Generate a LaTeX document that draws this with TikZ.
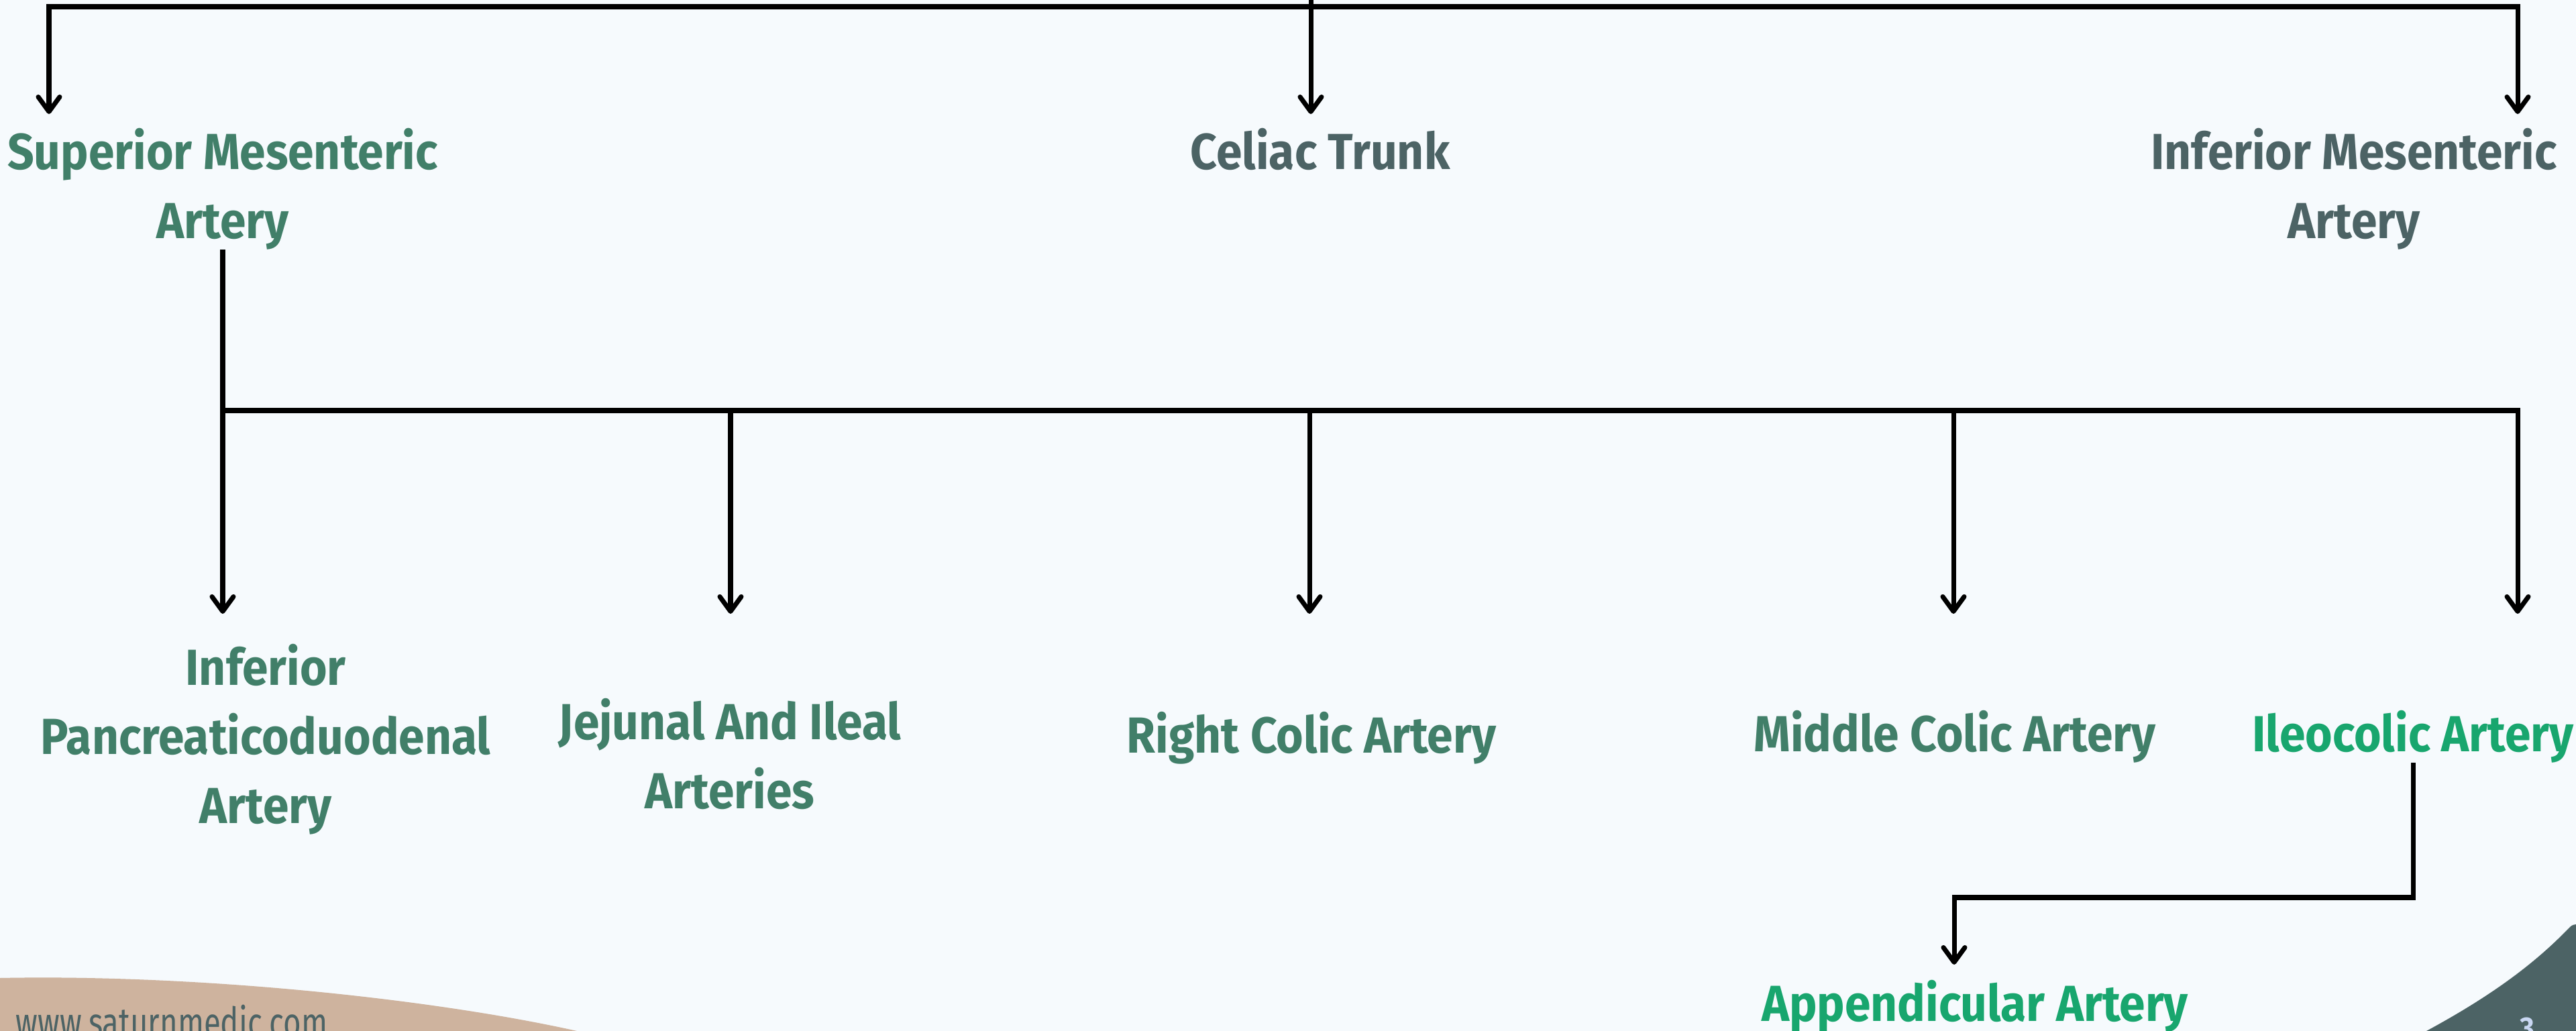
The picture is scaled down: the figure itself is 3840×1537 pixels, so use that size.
\documentclass[tikz,border=0pt]{standalone}
\usepackage{fontspec}
\setmainfont{Fira Sans}
\newfontfamily\artfont{Fira Sans}[FakeStretch=0.92]
\newfontfamily\sitefont{Fira Sans}[FakeStretch=0.75]
\usetikzlibrary{arrows.meta}
\definecolor{bgcol}{HTML}{F6FAFD}
\definecolor{smagreen}{HTML}{417F69}
\definecolor{slate}{HTML}{4C6365}
\definecolor{leafgreen}{HTML}{18A66E}
\definecolor{sand}{HTML}{CEB39E}
\definecolor{pagecol}{HTML}{C9D7F2}
\begin{document}
\begin{tikzpicture}[x=0.1mm,y=-0.1mm,
    lbl/.style={font=\artfont\bfseries\fontsize{21.5}{29.3}\selectfont,align=center,inner sep=0pt,anchor=base},
    conn/.style={draw=black,line width=2pt},
    arr/.style={conn,-{Straight Barb[length=2.2mm,width=3.2mm,round]}}]
    \fill[bgcol] (0,0) rectangle (3840,1537);
    \useasboundingbox (0,0) rectangle (3840,1537);
    \fill[sand] (0,1458) .. controls (300,1452) and (650,1490) .. (860,1537) -- (0,1537) -- cycle;
    \fill[slate] (3617,1537) .. controls (3700,1492) and (3770,1445) .. (3828,1385)
        .. controls (3834,1379) .. (3840,1378) -- (3840,1537) -- cycle;
    \node[font=\sitefont\fontsize{17.3}{20}\selectfont,text=slate,inner sep=0pt,anchor=base west] (site) at (23,1545) {www.saturnmedic.com};
    \node[font=\artfont\bfseries\fontsize{13}{13}\selectfont,text=pagecol,inner sep=0pt,anchor=base] (page) at (3767,1548) {3};

    \node[lbl,text=smagreen] (sma) at (332,355) {Superior Mesenteric\\Artery};
    \node[lbl,text=slate] (celiac) at (1968,252) {Celiac Trunk};
    \node[lbl,text=slate] (ima) at (3509,355) {Inferior Mesenteric\\Artery};
    \node[lbl,text=smagreen] (ipd) at (396,1227) {Inferior\\Pancreaticoduodenal\\Artery};
    \node[lbl,text=smagreen] (jejunal) at (1088,1205) {Jejunal And Ileal\\Arteries};
    \node[lbl,text=smagreen] (rcolic) at (1955,1122) {Right Colic Artery};
    \node[lbl,text=smagreen] (mcolic) at (2914,1120) {Middle Colic Artery};
    \node[lbl,text=leafgreen] (ileocolic) at (3597,1120) {Ileocolic Artery};
    \node[lbl,text=leafgreen] (append) at (2944,1522) {Appendicular Artery};

    \coordinate (aorta) at (1954,-10);
    \coordinate (topbar) at (1954,10);
    \coordinate (smatip) at (73,170);
    \coordinate (celtip) at (1954,170);
    \coordinate (imatip) at (3753,170);
    \draw[arr] (aorta) -- (celtip);
    \draw[arr] (topbar) -| (smatip);
    \draw[arr] (topbar) -| (imatip);

    \coordinate (smabus) at (332,612);
    \coordinate (ipdtip) at (332,915);
    \coordinate (jejtip) at (1089,915);
    \coordinate (rctip) at (1952,915);
    \coordinate (mctip) at (2912,915);
    \coordinate (iletip) at (3753,915);
    \draw[arr] (sma.south) -- (ipdtip);
    \draw[arr] (smabus) -| (iletip);
    \draw[arr] (smabus -| jejtip) -- (jejtip);
    \draw[arr] (smabus -| rctip) -- (rctip);
    \draw[arr] (smabus -| mctip) -- (mctip);

    \coordinate (appbend) at (2913,1338);
    \coordinate (apptip) at (2913,1438);
    \draw[arr] (ileocolic.south) |- (appbend) -- (apptip);
\end{tikzpicture}
\end{document}
